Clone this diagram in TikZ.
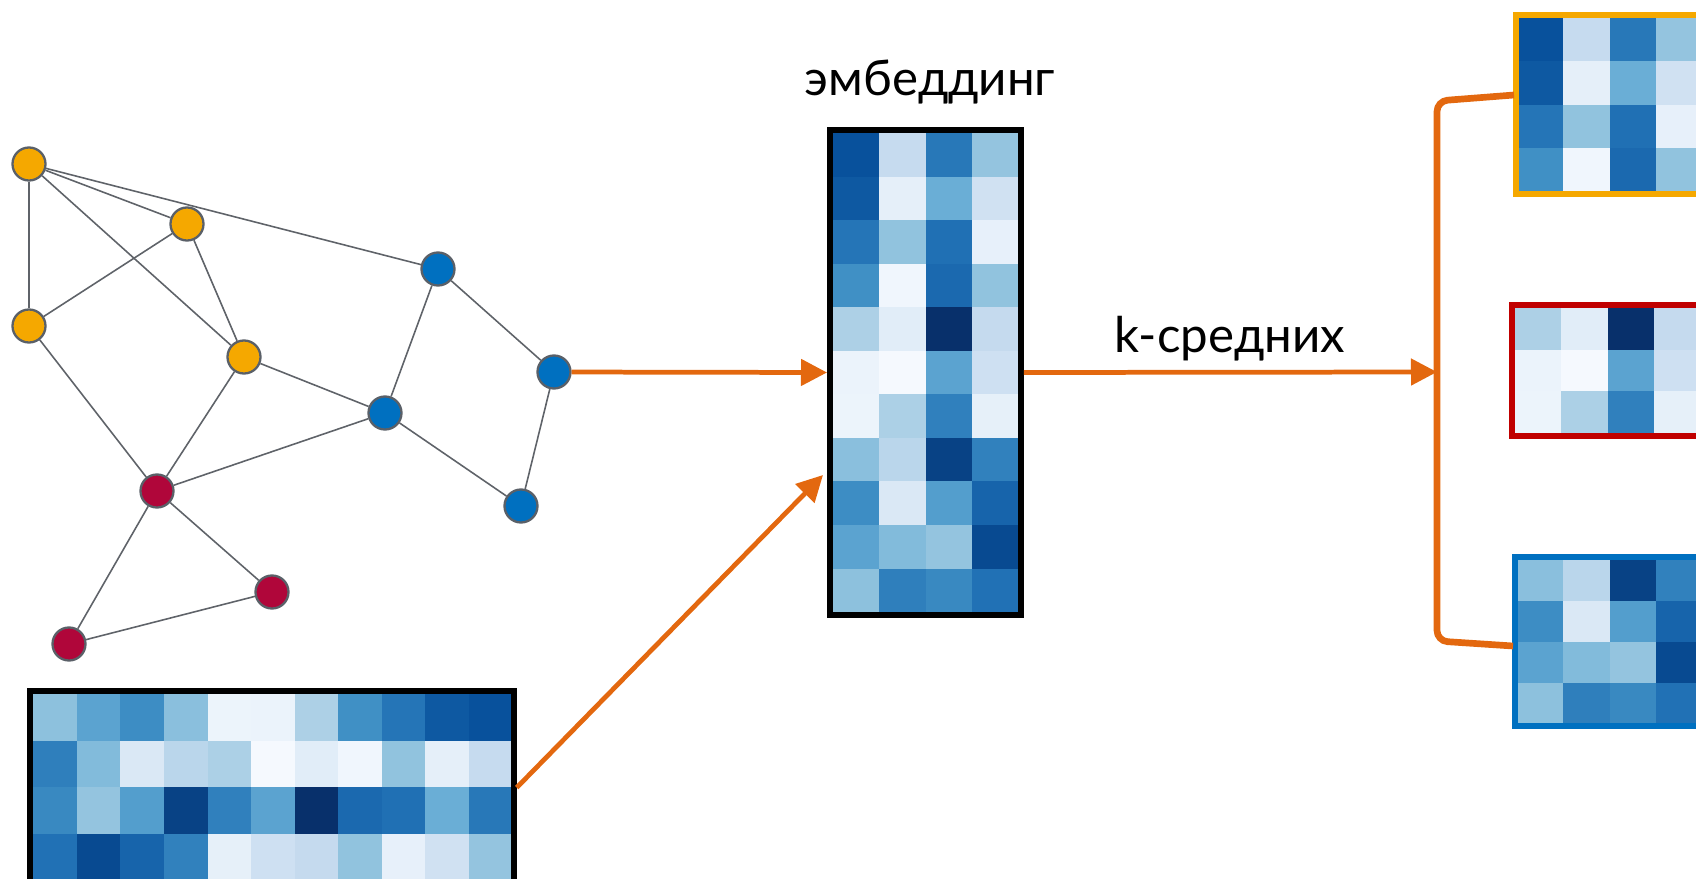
\documentclass[tikz,border=0pt]{standalone}
\usepackage{fontspec}
\setmainfont{Lato}
\usetikzlibrary{arrows.meta,fit}

\definecolor{hubyellow}{HTML}{F5A800}
\definecolor{hubblue}{HTML}{0070C0}
\definecolor{hubred}{HTML}{B0063A}
\definecolor{rimgray}{HTML}{5A6068}
\definecolor{edgegray}{HTML}{5F6369}
\definecolor{flow}{HTML}{E3680F}
\definecolor{boxred}{HTML}{C00000}

% embedding values: 11 rows of 4 (Blues scale)
\newcommand\embrows{%
  {08519C,C6DBEF,2878B8,94C4DF},
  {0E59A2,E5EFF9,6AAED6,D0E1F2},
  {2575B7,91C3DE,2070B4,E7F0FA},
  {4090C5,F0F6FD,1B69AF,91C3DE},
  {ADD0E6,E1EDF8,08306B,C5DAEE},
  {EBF3FB,F5F9FE,5BA3D0,CEE0F2},
  {ECF4FB,ACD0E6,3080BD,E6F0F9},
  {8ABFDD,BAD6EB,084285,3181BD},
  {3D8DC4,DAE8F5,539ECD,1764AB},
  {5BA3D0,82BBDB,94C4DF,084A91},
  {8DC1DD,2F7FBC,3989C1,2171B5}}
\foreach \row [count=\i] in \embrows {
  \foreach \hex [count=\j] in \row {
    \edef\tmp{\noexpand\xglobal\noexpand\definecolor{emb\i x\j}{HTML}{\hex}}\tmp
  }
}

% x, y, cell width, cell height, first row, last row
\newcommand\cellrows[6]{%
  \foreach \i in {#5,...,#6}
    \foreach \j in {1,...,4}
      \fill[fill=emb\i x\j] ({#1+(\j-1)*#3},{#2+(\i-#5)*#4}) rectangle ++(#3,#4);
}

\begin{document}
\begin{tikzpicture}[x=0.01cm, y=-0.01cm,
    vertex/.style={circle, draw=rimgray, line width=0.65pt, minimum size=0.33cm, inner sep=0pt},
    link/.style={draw=edgegray, line width=0.45pt},
    flowarrow/.style={draw=flow, line width=1.35pt, -{Triangle[length=0.26cm, width=0.26cm]}},
    frame/.style={inner sep=0pt, line width=1.7pt},
    title/.style={font=\fontsize{14}{17}\selectfont}]

    \useasboundingbox (0,0) rectangle (1696,879);
    \clip (0,0) rectangle (1696,879);

    % Graph vertices
    \node[vertex, fill=hubyellow] (y1) at (29,164) {};
    \node[vertex, fill=hubyellow] (y2) at (187,224) {};
    \node[vertex, fill=hubyellow] (y3) at (29,326) {};
    \node[vertex, fill=hubyellow] (y4) at (244,357) {};
    \node[vertex, fill=hubblue] (b1) at (438,269) {};
    \node[vertex, fill=hubblue] (b2) at (554,372) {};
    \node[vertex, fill=hubblue] (b3) at (385,413) {};
    \node[vertex, fill=hubblue] (b4) at (521,506) {};
    \node[vertex, fill=hubred] (r1) at (157,491) {};
    \node[vertex, fill=hubred] (r2) at (272,592) {};
    \node[vertex, fill=hubred] (r3) at (69,644) {};

    % Graph edges
    \foreach \a/\b in {y1/y2, y1/y3, y1/y4, y1/b1, y2/y3, y2/y4, y3/r1, y4/r1, y4/b3,
                       b1/b3, b1/b2, b2/b4, b3/b4, b3/r1, r1/r2, r1/r3, r2/r3}
        \draw[link] (\a) -- (\b);

    % Embedding matrix
    \cellrows{833}{133}{46.25}{43.55}{1}{11}
    \path (830,130) coordinate (embnw) (1021,615) coordinate (embse);
    \node[frame, draw=black, fit=(embnw)(embse)] (emb) {};
    \node[title] (embtitle) at (930,82) {эмбеддинг};

    % Feature matrix (transposed values)
    \foreach \i in {1,...,11}
        \foreach \j in {1,...,4}
            \fill[fill=emb\i x\j] ({33.3+(11-\i)*43.55},{694+(\j-1)*46.7}) rectangle ++(43.55,46.7);
    \path (30.3,691.3) coordinate (featnw) (513.7,884) coordinate (featse);
    \node[frame, draw=black, fit=(featnw)(featse)] (feat) {};

    % Clusters
    \cellrows{1517}{18}{46.25}{43.3}{1}{4}
    \path (1516,15) coordinate (ylwnw) (1720,194) coordinate (ylwse);
    \node[frame, draw=hubyellow, fit=(ylwnw)(ylwse)] (ylw) {};

    \cellrows{1515}{308}{46.25}{41.7}{5}{7}
    \path (1512,305) coordinate (rednw) (1720,436) coordinate (redse);
    \node[frame, draw=boxred, fit=(rednw)(redse)] (red) {};

    \cellrows{1517}{560}{46.25}{41}{8}{11}
    \path (1515,557) coordinate (blunw) (1720,726) coordinate (bluse);
    \node[frame, draw=hubblue, fit=(blunw)(bluse)] (blu) {};

    % Bracket joining the clusters
    \coordinate (brk) at (1437,372);
    \coordinate (brktop) at (1514,95);
    \coordinate (brkbot) at (1513,646);
    \draw[draw=flow, line width=1.9pt, rounded corners=3pt]
        (brktop) -- (1437,101) -- (brk) -- (1437,641) -- (brkbot);

    % Flow arrows
    \coordinate (embin) at (823,475);
    \draw[flowarrow] (b2) -- (emb.west);
    \draw[flowarrow] (feat.east) -- (embin);
    \draw[flowarrow] (emb.east) -- (brk);
    \node[title] (kmeans) at (1230,339) {k-средних};

\end{tikzpicture}
\end{document}
